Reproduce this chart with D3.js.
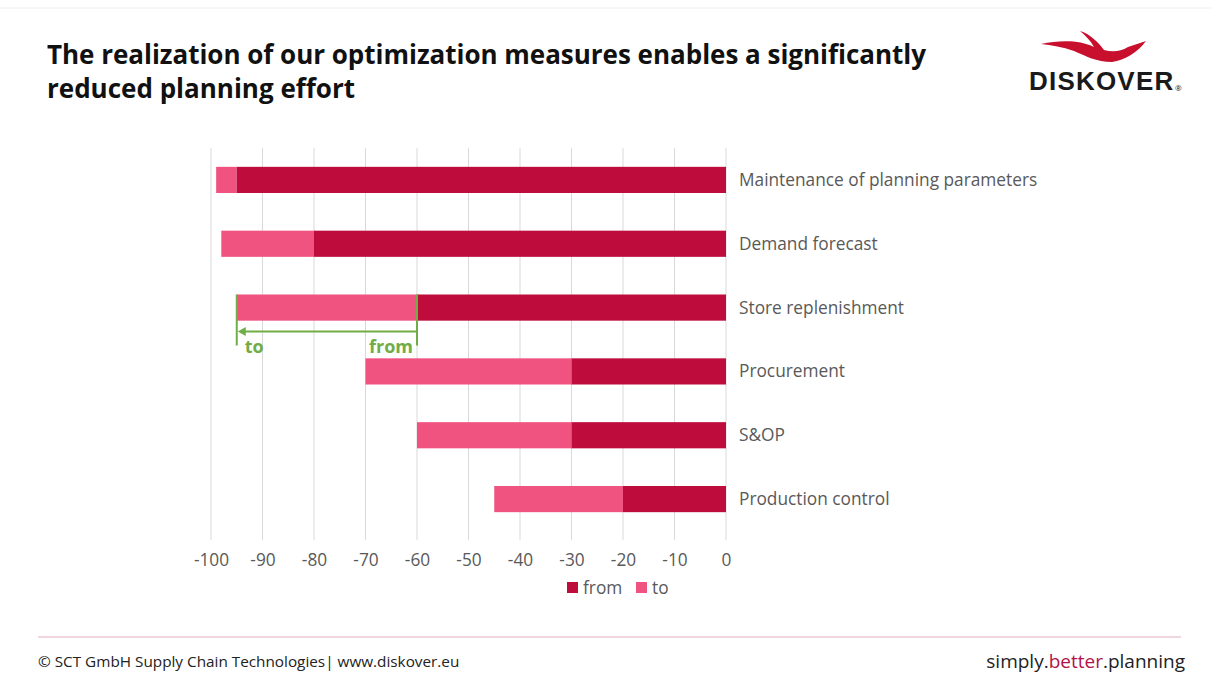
<!DOCTYPE html>
<html><head><meta charset="utf-8">
<script src="https://cdn.jsdelivr.net/npm/d3@7"></script>
<style>
body{margin:0;background:#fff;}
svg{display:block;font-family:"Open Sans",sans-serif;}
</style></head>
<body>
<svg id="c" width="1211" height="686"></svg>
<script>
const categories = ["Maintenance of planning parameters","Demand forecast","Store replenishment","Procurement","S&OP","Production control"];
const fromValues = [-95, -80, -60, -30, -30, -20];
const toValues   = [-99, -98, -95, -70, -60, -45];
const tickValues = [-100,-90,-80,-70,-60,-50,-40,-30,-20,-10,0];
const legendLabels = ["from","to"];

const svg = d3.select("#c");
const darkC = "#BE0C3D", lightC = "#F05380", green = "#70AD47";

// top faint border
svg.append("line").attr("x1",0).attr("x2",1211).attr("y1",8).attr("y2",8).attr("stroke","#eeeeee");

// title
const title = svg.append("text").attr("x",47).attr("font-weight",700).attr("font-size",26).attr("fill","#111");
title.append("tspan").attr("x",47).attr("y",64).attr("textLength",879).attr("lengthAdjust","spacing").text("The realization of our optimization measures enables a significantly");
title.append("tspan").attr("x",47).attr("y",98).text("reduced planning effort");

// logo
const logo = svg.append("g");
logo.append("path")
  .attr("d","M1041,44 C1060,40 1080,40 1094,47 C1090,40 1085,35 1080,31 C1090,34 1098,42 1104,50 C1112,52 1120,52 1128,47 L1146,41 C1138,52 1125,60 1112,62 C1096,62 1086,56 1074,51 C1062,47 1052,45 1041,44 Z")
  .attr("fill","#C8102E");
logo.append("text").attr("x",1029).attr("y",90).attr("font-family","Liberation Sans, Arial, sans-serif")
  .attr("font-weight",700).attr("font-size",26).attr("letter-spacing",1.2).attr("fill","#1a1a1a").text("DISKOVER");
logo.append("text").attr("x",1175).attr("y",91).attr("font-size",8).attr("fill","#1a1a1a").text("®");

// scales
const x = d3.scaleLinear().domain([-100,0]).range([211,726]);
const y = d3.scaleBand().domain(categories).range([148,531]).paddingInner(0.59).paddingOuter(0.295);

// gridlines
svg.append("g").selectAll("line").data(tickValues).join("line")
  .attr("x1",d=>x(d)).attr("x2",d=>x(d)).attr("y1",148).attr("y2",540)
  .attr("stroke","#d9d9d9").attr("stroke-width",1);

const data = categories.map((c,i)=>({c, from:fromValues[i], to:toValues[i]}));

// to segments (light)
svg.append("g").selectAll("rect").data(data).join("rect")
  .attr("x",d=>x(d.to)).attr("width",d=>x(d.from)-x(d.to))
  .attr("y",d=>y(d.c)).attr("height",y.bandwidth()).attr("fill",lightC);
// from segments (dark)
svg.append("g").selectAll("rect").data(data).join("rect")
  .attr("x",d=>x(d.from)).attr("width",d=>x(0)-x(d.from))
  .attr("y",d=>y(d.c)).attr("height",y.bandwidth()).attr("fill",darkC);

// category labels
svg.append("g").selectAll("text").data(categories).join("text")
  .attr("x",739).attr("y",d=>y(d)+y.bandwidth()/2).attr("dy","0.35em")
  .attr("font-size",17.3).attr("fill","#595959").text(d=>d);

// x axis
const ax = svg.append("g").attr("transform","translate(0,540)")
  .call(d3.axisBottom(x).tickValues(tickValues).tickSize(0).tickPadding(10).tickFormat(d=>String(d)));
ax.select(".domain").remove();
ax.selectAll("text").attr("font-size",17.3).attr("fill","#595959").attr("font-family","Open Sans, sans-serif").attr("dy","0.9em");

// legend
const lg = svg.append("g").attr("transform","translate(567,588)");
lg.append("rect").attr("x",0).attr("y",-6).attr("width",11).attr("height",11).attr("fill",darkC);
lg.append("text").attr("x",16).attr("y",0).attr("dy","0.35em").attr("font-size",17.3).attr("fill","#595959").text(legendLabels[0]);
lg.append("rect").attr("x",69).attr("y",-6).attr("width",11).attr("height",11).attr("fill",lightC);
lg.append("text").attr("x",85).attr("y",0).attr("dy","0.35em").attr("font-size",17.3).attr("fill","#595959").text(legendLabels[1]);

// annotation on Store replenishment
const sr = data[2];
const yTop = y(sr.c), ann = svg.append("g");
const xf = x(sr.from), xt = x(sr.to);
ann.append("line").attr("x1",xt).attr("x2",xt).attr("y1",yTop).attr("y2",yTop+51).attr("stroke",green).attr("stroke-width",2);
ann.append("line").attr("x1",xf).attr("x2",xf).attr("y1",yTop).attr("y2",yTop+51).attr("stroke",green).attr("stroke-width",2);
ann.append("line").attr("x1",xf).attr("x2",xt+4).attr("y1",yTop+37).attr("y2",yTop+37).attr("stroke",green).attr("stroke-width",2);
ann.append("path").attr("d",`M${xt+1},${yTop+37} l8,-4.5 l0,9 Z`).attr("fill",green);
ann.append("text").attr("x",xt+8).attr("y",yTop+59).attr("font-size",18).attr("font-weight",700).attr("fill",green).text("to");
ann.append("text").attr("x",xf-4).attr("y",yTop+59).attr("text-anchor","end").attr("font-size",18).attr("font-weight",700).attr("fill",green).text("from");

// footer
svg.append("line").attr("x1",38).attr("x2",1181).attr("y1",637).attr("y2",637).attr("stroke","#ecc8d2").attr("stroke-width",1.5);
svg.append("text").attr("x",38).attr("y",667).attr("font-size",15.3).attr("fill","#222").text("© SCT GmbH Supply Chain Technologies| www.diskover.eu");
const ft = svg.append("text").attr("x",1185).attr("y",668).attr("text-anchor","end").attr("font-size",19).attr("fill","#222");
ft.append("tspan").text("simply.");
ft.append("tspan").attr("fill","#B3124A").text("better");
ft.append("tspan").text(".planning");
</script>
</body></html>
